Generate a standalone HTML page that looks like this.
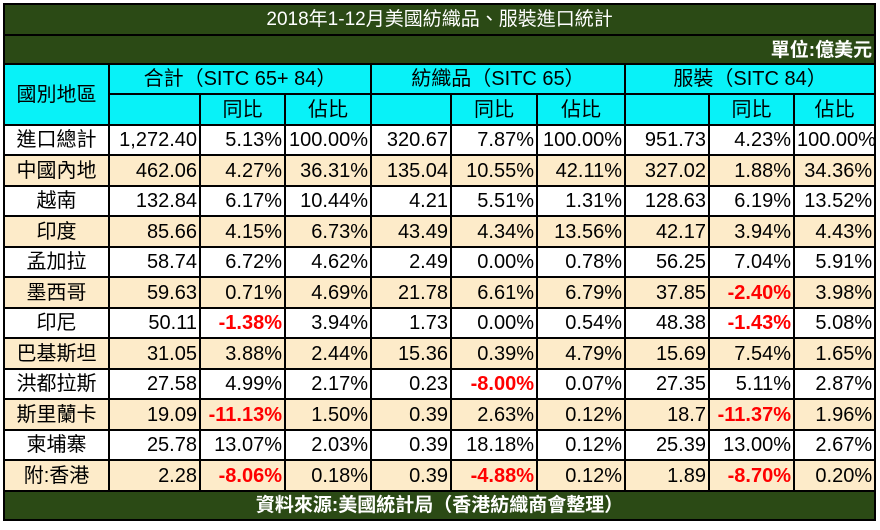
<!DOCTYPE html>
<html><head><meta charset="utf-8"><style>
html,body{margin:0;padding:0;background:#fff;width:880px;height:530px;overflow:hidden}
table{position:absolute;left:3px;top:3px;border-collapse:collapse;table-layout:fixed;width:871px;
font-family:"Liberation Sans","Noto Sans CJK TC",sans-serif;font-size:20px;color:#000}
td{border:2px solid #000;padding:0 2px;white-space:nowrap;overflow:hidden;text-align:right;line-height:20px}
.g{background:#2b4a15;color:#fff}
.c{background:#08f2f8;text-align:center}
.n{text-align:center}
tr.b td{background:#fdebc9}
.r{color:#ff0000;font-weight:bold}
</style></head><body>
<table>
<colgroup><col style="width:105px"><col style="width:91px"><col style="width:85px"><col style="width:86px"><col style="width:80px"><col style="width:86px"><col style="width:88px"><col style="width:84px"><col style="width:85px"><col style="width:81px"></colgroup>
<tr style="height:31px"><td colspan="10" class="g" style="text-align:center;font-size:19px">2018年1-12月美國紡織品、服裝進口統計</td></tr>
<tr style="height:29px"><td colspan="10" class="g" style="font-weight:bold;vertical-align:bottom;padding-bottom:2px;font-size:19px">單位:億美元</td></tr>
<tr style="height:30px"><td rowspan="2" class="c">國別地區</td><td colspan="3" class="c">合計（SITC 65+ 84）</td><td colspan="3" class="c">紡織品（SITC 65）</td><td colspan="3" class="c">服裝（SITC 84）</td></tr>
<tr style="height:31px"><td class="c" style="border-top:1px solid #6cc"></td><td class="c">同比</td><td class="c" style="border-left:1px solid #6cc">佔比</td><td class="c" style="border-top:1px solid #6cc"></td><td class="c">同比</td><td class="c" style="border-left:1px solid #6cc">佔比</td><td class="c" style="border-top:1px solid #6cc"></td><td class="c">同比</td><td class="c" style="border-left:1px solid #6cc">佔比</td></tr>
<tr style="height:30px"><td class="n">進口總計</td><td>1,272.40</td><td>5.13%</td><td>100.00%</td><td>320.67</td><td>7.87%</td><td>100.00%</td><td>951.73</td><td>4.23%</td><td>100.00%</td></tr>
<tr class="b" style="height:31px"><td class="n">中國內地</td><td>462.06</td><td>4.27%</td><td>36.31%</td><td>135.04</td><td>10.55%</td><td>42.11%</td><td>327.02</td><td>1.88%</td><td>34.36%</td></tr>
<tr style="height:30px"><td class="n">越南</td><td>132.84</td><td>6.17%</td><td>10.44%</td><td>4.21</td><td>5.51%</td><td>1.31%</td><td>128.63</td><td>6.19%</td><td>13.52%</td></tr>
<tr class="b" style="height:31px"><td class="n">印度</td><td>85.66</td><td>4.15%</td><td>6.73%</td><td>43.49</td><td>4.34%</td><td>13.56%</td><td>42.17</td><td>3.94%</td><td>4.43%</td></tr>
<tr style="height:30px"><td class="n">孟加拉</td><td>58.74</td><td>6.72%</td><td>4.62%</td><td>2.49</td><td>0.00%</td><td>0.78%</td><td>56.25</td><td>7.04%</td><td>5.91%</td></tr>
<tr class="b" style="height:31px"><td class="n">墨西哥</td><td>59.63</td><td>0.71%</td><td>4.69%</td><td>21.78</td><td>6.61%</td><td>6.79%</td><td>37.85</td><td class="r">-2.40%</td><td>3.98%</td></tr>
<tr style="height:30px"><td class="n">印尼</td><td>50.11</td><td class="r">-1.38%</td><td>3.94%</td><td>1.73</td><td>0.00%</td><td>0.54%</td><td>48.38</td><td class="r">-1.43%</td><td>5.08%</td></tr>
<tr class="b" style="height:31px"><td class="n">巴基斯坦</td><td>31.05</td><td>3.88%</td><td>2.44%</td><td>15.36</td><td>0.39%</td><td>4.79%</td><td>15.69</td><td>7.54%</td><td>1.65%</td></tr>
<tr style="height:30px"><td class="n">洪都拉斯</td><td>27.58</td><td>4.99%</td><td>2.17%</td><td>0.23</td><td class="r">-8.00%</td><td>0.07%</td><td>27.35</td><td>5.11%</td><td>2.87%</td></tr>
<tr class="b" style="height:31px"><td class="n">斯里蘭卡</td><td>19.09</td><td class="r">-11.13%</td><td>1.50%</td><td>0.39</td><td>2.63%</td><td>0.12%</td><td>18.7</td><td class="r">-11.37%</td><td>1.96%</td></tr>
<tr style="height:30px"><td class="n">柬埔寨</td><td>25.78</td><td>13.07%</td><td>2.03%</td><td>0.39</td><td>18.18%</td><td>0.12%</td><td>25.39</td><td>13.00%</td><td>2.67%</td></tr>
<tr class="b" style="height:31px"><td class="n">附:香港</td><td>2.28</td><td class="r">-8.06%</td><td>0.18%</td><td>0.39</td><td class="r">-4.88%</td><td>0.12%</td><td>1.89</td><td class="r">-8.70%</td><td>0.20%</td></tr>
<tr style="height:29px"><td colspan="10" class="g" style="text-align:center;font-weight:bold;font-size:19px">資料來源:美國統計局（香港紡織商會整理）</td></tr>
</table>
</body></html>
